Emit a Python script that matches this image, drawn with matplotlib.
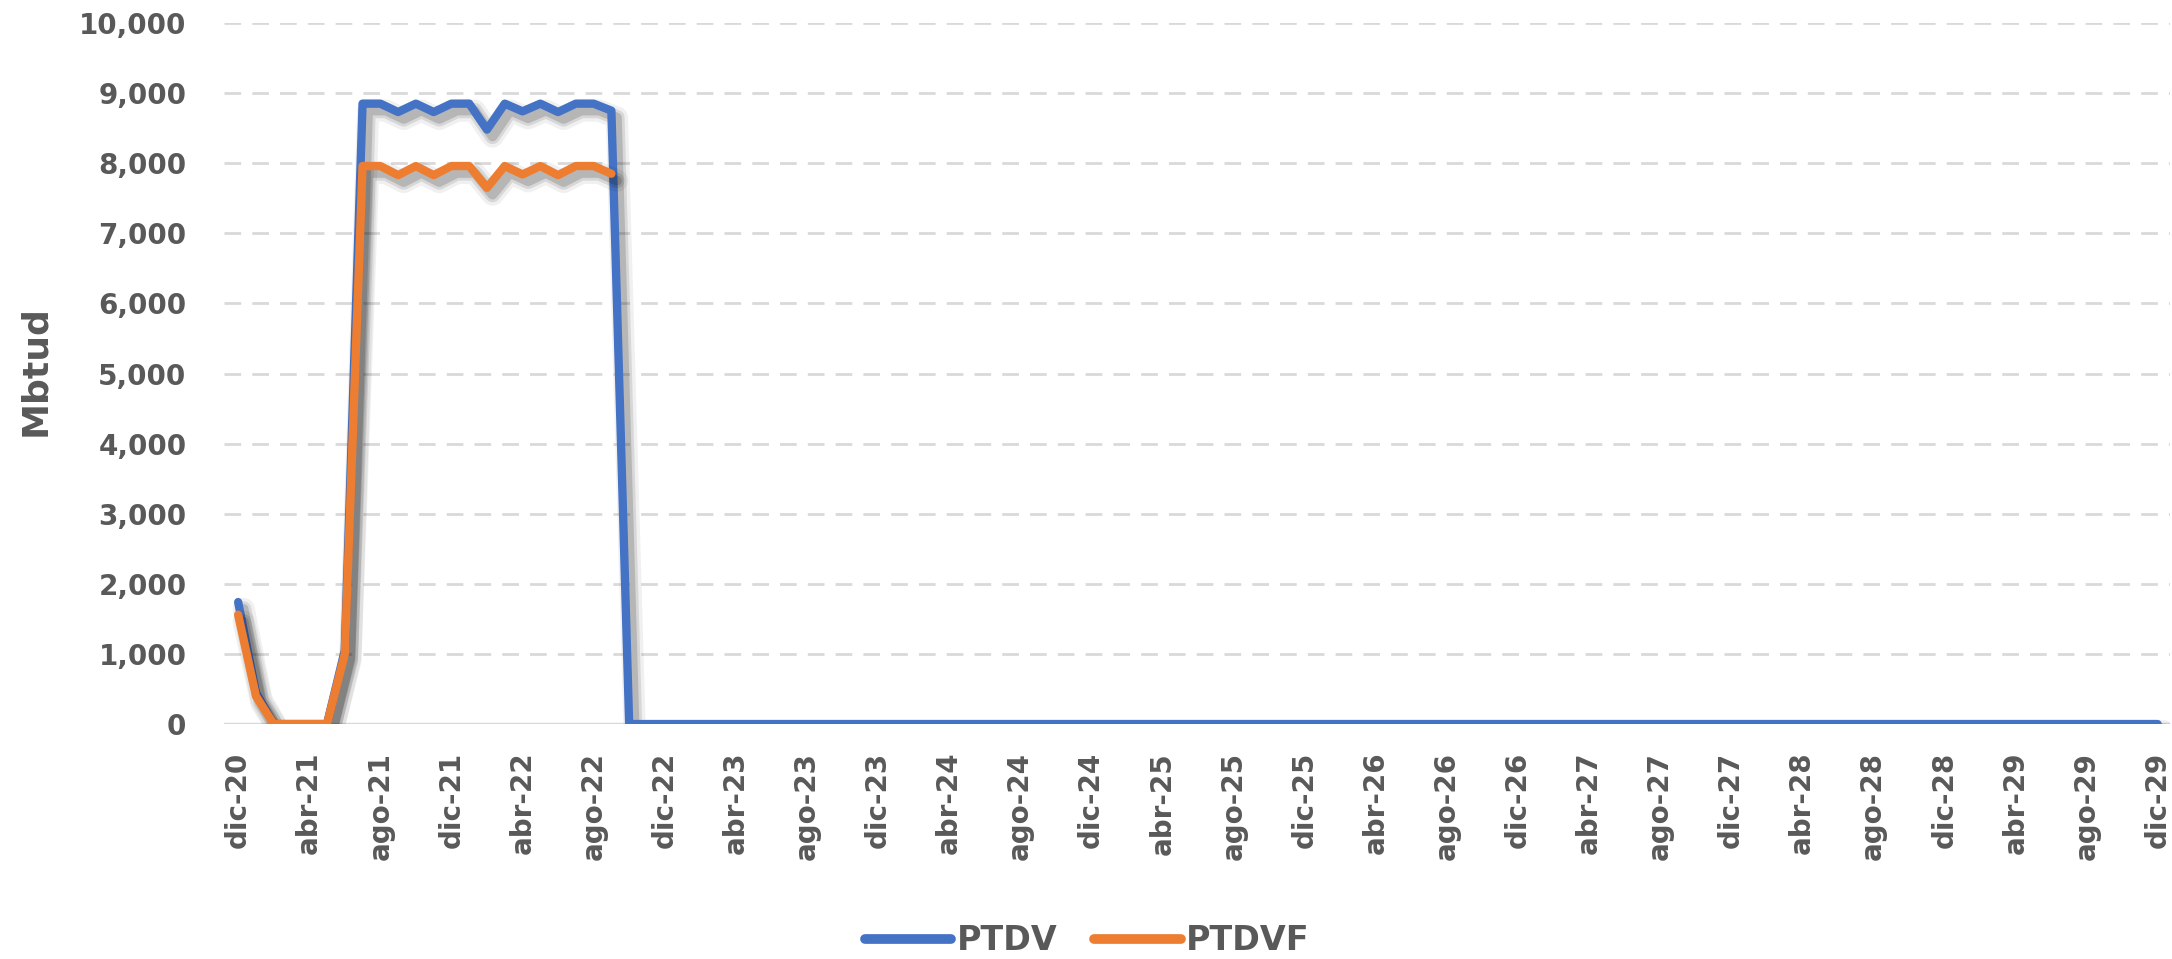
import matplotlib
matplotlib.use('Agg')
import matplotlib.pyplot as plt
import matplotlib.patheffects as pe
import numpy as np

# months from dic-20 to dic-29
meses = ['ene', 'feb', 'mar', 'abr', 'may', 'jun', 'jul', 'ago', 'sep', 'oct', 'nov', 'dic']
labels = ['dic-20'] + ['{}-{}'.format(meses[m], 21 + y) for y in range(9) for m in range(12)]

# PTDV (blue): values, zero from oct-22 onwards
ptdv_head = [1740, 450, 0, 0, 0, 0, 1050, 8850, 8850, 8730, 8850, 8730, 8850, 8850,
             8480, 8850, 8740, 8850, 8730, 8850, 8850, 8750, 0]
ptdv = ptdv_head + [0] * (len(labels) - len(ptdv_head))

# PTDVF (orange): ends in sep-22
ptdvf_head = [1560, 400, 0, 0, 0, 0, 1000, 7960, 7960, 7830, 7960, 7830, 7960, 7960,
              7650, 7960, 7840, 7960, 7830, 7960, 7960, 7850]
ptdvf = ptdvf_head + [np.nan] * (len(labels) - len(ptdvf_head))

yticks = np.arange(0, 10001, 1000)

BLUE = '#4472C4'
ORANGE = '#ED7D31'
TXT = '#595959'
GRID = '#D9D9D9'

plt.rcParams['font.family'] = ['DejaVu Sans']
plt.rcParams['font.weight'] = 'bold'

fig = plt.figure(figsize=(21.72, 9.59), dpi=100)
ax = fig.add_axes([0.1031, 0.245, 0.896, 0.731])

x = np.arange(len(labels))
lw = 6
# soft grey drop shadow, like the Excel line effect
shadow = [pe.SimpleLineShadow(offset=(4, -5), shadow_color='k', alpha=0.06, linewidth=lw + 10),
          pe.SimpleLineShadow(offset=(4, -5), shadow_color='k', alpha=0.10, linewidth=lw + 5),
          pe.SimpleLineShadow(offset=(4, -5), shadow_color='k', alpha=0.15, linewidth=lw + 1),
          pe.Normal()]

ax.plot(x, ptdv, color=BLUE, lw=lw, label='PTDV', solid_joinstyle='round',
        solid_capstyle='round', path_effects=shadow, zorder=3)
ax.plot(x, ptdvf, color=ORANGE, lw=lw, label='PTDVF', solid_joinstyle='round',
        solid_capstyle='round', path_effects=shadow, zorder=4)

ax.set_xlim(-0.8, len(labels) - 1 + 0.7)
ax.set_ylim(0, 10000)

ax.set_yticks(yticks)
ax.set_yticklabels(['{:,}'.format(v) for v in yticks])
ax.set_xticks(x[::4])
ax.set_xticklabels(labels[::4], rotation=90)

ax.tick_params(axis='y', length=0, pad=27, labelsize=20, labelcolor=TXT)
ax.tick_params(axis='x', length=0, pad=20, labelsize=20, labelcolor=TXT)

for v in yticks[1:]:
    ax.axhline(v, color=GRID, lw=2, ls=(0, (6, 4)), zorder=1)
ax.axhline(0, color=GRID, lw=2.5, zorder=2)

for s in ax.spines.values():
    s.set_visible(False)

fig.text(35 / 2172, 1 - 371 / 959, 'Mbtud', rotation=90, ha='center', va='center',
         fontsize=26, fontweight='bold', color=TXT)

leg = fig.legend(loc='center', bbox_to_anchor=(1087 / 2172, 1 - 941 / 959), ncol=2,
                 frameon=False, fontsize=24, handlelength=2.6, handletextpad=0.15,
                 columnspacing=1.1)
for t in leg.get_texts():
    t.set_color(TXT)
for h in leg.get_lines():
    h.set_linewidth(7)
    h.set_solid_capstyle('round')
    h.set_path_effects([])

fig.savefig('out.png', dpi=100)
